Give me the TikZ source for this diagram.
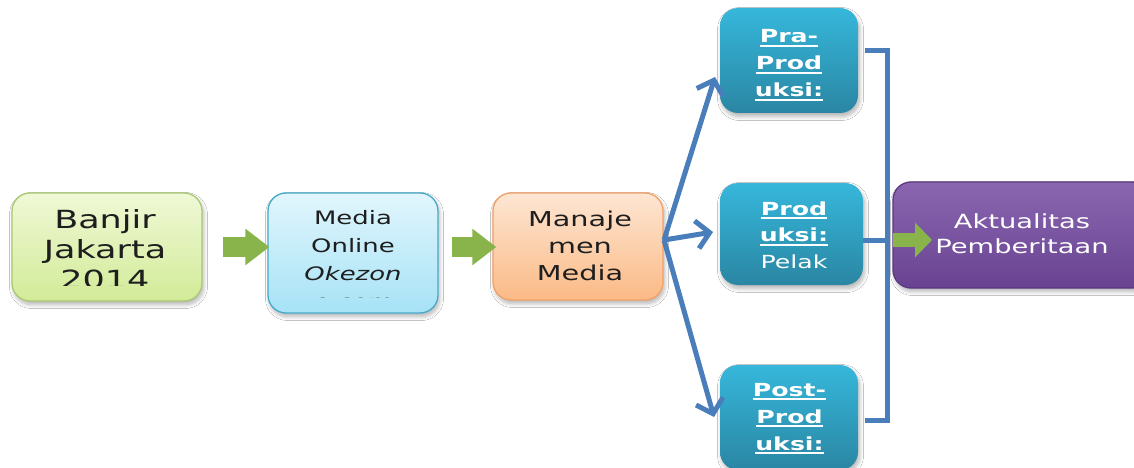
\documentclass[tikz,border=0pt]{standalone}
\usepackage{fontspec}
\setmainfont{DejaVu Sans}[FakeStretch=1.4]
\usetikzlibrary{arrows.meta,shadows.blur}
\definecolor{gtop}{HTML}{F0F8D6}
\definecolor{gbot}{HTML}{D2EB98}
\definecolor{gbrd}{HTML}{A9C972}
\definecolor{btop}{HTML}{E2F6FD}
\definecolor{bbot}{HTML}{A6E2F6}
\definecolor{bbrd}{HTML}{46AACB}
\definecolor{otop}{HTML}{FDE6D3}
\definecolor{obot}{HTML}{FBBA86}
\definecolor{obrd}{HTML}{F4A066}
\definecolor{ttop}{HTML}{36B7DB}
\definecolor{tbot}{HTML}{2A86A3}
\definecolor{ptop}{HTML}{8A66B0}
\definecolor{pbot}{HTML}{694391}
\definecolor{pbrd}{HTML}{5B3A81}
\definecolor{garr}{HTML}{88B44B}
\definecolor{bline}{HTML}{4A7EBB}
\definecolor{tdark}{HTML}{1E1E1E}
\newcommand\myul[1]{\leavevmode\setbox0\hbox{#1}\rlap{\rule[-4pt]{\wd0}{1.8pt}}\box0}
\begin{document}
\begin{tikzpicture}[x=1pt,y=-1pt,
  box/.style={rounded corners=18pt, inner sep=0pt,
    blur shadow={shadow xshift=1.5pt, shadow yshift=-3.5pt, shadow opacity=30, shadow blur steps=8, shadow blur radius=4pt}},
  txt/.style={anchor=base, inner sep=0pt, text=tdark},
  wtxt/.style={anchor=base, inner sep=0pt, text=white},
  garrowA/.style={draw=garr, fill=garr, line width=20pt, -{Triangle[length=24pt,width=35pt]}},
  garrowB/.style={draw=garr, fill=garr, line width=14pt, -{Triangle[length=17pt,width=34pt]}},
  bluearr/.style={draw=bline, line width=5pt, -{Straight Barb[length=13pt,width=28pt]}},
  bracket/.style={draw=bline, line width=5pt}]
\useasboundingbox (0,0) rectangle (1134,468);
\clip (0,0) rectangle (1134,468);
\fill[white] (0,0) rectangle (1134,468);

% boxes
\node[box, draw=gbrd, line width=1.3pt, top color=gtop, bottom color=gbot, minimum width=190pt, minimum height=108pt] (banjir) at (107,247) {};
\node[box, draw=bbrd, line width=1.3pt, top color=btop, bottom color=bbot, minimum width=170pt, minimum height=120pt] (media) at (353,253) {};
\node[box, draw=obrd, line width=1.3pt, top color=otop, bottom color=obot, minimum width=170pt, minimum height=107pt] (manaje) at (578,246.5) {};
\node[box, top color=ttop, bottom color=tbot, minimum width=138pt, minimum height=105pt] (pra) at (789,60.5) {};
\node[box, top color=ttop, bottom color=tbot, minimum width=143pt, minimum height=102pt] (prod) at (791.5,234) {};
\node[box, top color=ttop, bottom color=tbot, minimum width=138pt, minimum height=105pt] (post) at (789,417.5) {};
\node[box, draw=pbrd, line width=1.3pt, top color=ptop, bottom color=pbot, minimum width=257pt, minimum height=106pt] (akt) at (1021.5,235) {};

% texts
\begin{scope}
\clip (12,190) rectangle (202,285.5);
\node[txt] (banjirT) at (105,228) {\parbox[t]{190pt}{\centering\fontsize{25}{30}\selectfont Banjir\\Jakarta\\2014}};
\end{scope}
\begin{scope}
\clip (268,190) rectangle (438,297.5);
\node[txt] (mediaT) at (353,224) {\parbox[t]{170pt}{\centering\fontsize{18.5}{28}\selectfont Media\\Online\\\itshape Okezon\\e.com}};
\end{scope}
\node[txt] (manajeT) at (580,226) {\parbox[t]{170pt}{\centering\fontsize{20.5}{27}\selectfont Manaje\\men\\Media}};
\node[wtxt] (praT) at (789,43) {\parbox[t]{138pt}{\centering\fontsize{18}{27}\selectfont\bfseries \myul{Pra-}\\\myul{Prod}\\\myul{uksi:}}};
\node[wtxt] (prodT) at (794,215) {\parbox[t]{143pt}{\centering\fontsize{18}{26.5}\selectfont\bfseries \myul{Prod}\\\myul{uksi:}\\\mdseries Pelak}};
\node[wtxt] (postT) at (789.5,396) {\parbox[t]{138pt}{\centering\fontsize{18}{27}\selectfont\bfseries \myul{Post-}\\\myul{Prod}\\\myul{uksi:}}};
\node[wtxt] (aktT) at (1022,228) {\parbox[t]{240pt}{\centering\fontsize{19.5}{25}\selectfont Aktualitas\\Pemberitaan}};

% green arrows
\coordinate (g1) at (223,247);
\draw[garrowA, shorten >=-2pt] (g1) -- (g1 -| media.west);
\coordinate (g2) at (452,247);
\draw[garrowA, shorten >=-4pt] (g2) -- (g2 -| manaje.west);

% blue arrows
\coordinate (fork) at (664,240);
\coordinate (t1) at (715,77);
\coordinate (t2) at (713,232);
\coordinate (t3) at (714,417);
\draw[bluearr] (fork) -- (t1);
\draw[bluearr] (fork) -- (t2);
\draw[bluearr] (fork) -- (t3);

% bracket
\coordinate (bt) at (865,51);
\coordinate (bb) at (865,420);
\coordinate (bx) at (887,240);
\draw[bracket] (bt) -| (bx) |- (bb);
\draw[bracket] (prod.east |- bx) -- (bx);

% final green arrow
\coordinate (g3) at (893,240);
\coordinate (g3e) at (932,240);
\draw[garrowB] (g3) -- (g3e);
\end{tikzpicture}
\end{document}
